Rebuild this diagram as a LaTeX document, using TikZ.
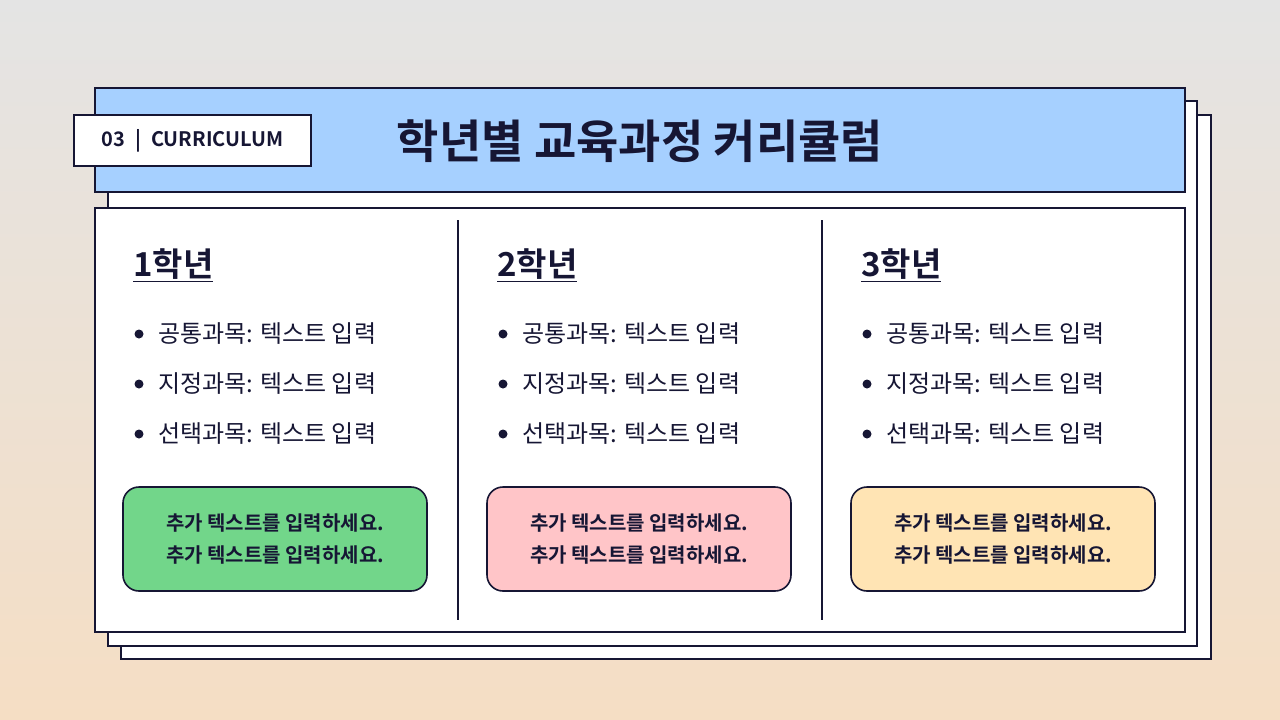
\documentclass[tikz,border=0pt]{standalone}
\usepackage{fontspec}
\setmainfont{Noto Sans CJK KR}
\newfontfamily\kb{Noto Sans CJK KR Bold}
\definecolor{ink}{RGB}{22,22,52}
\definecolor{hblue}{RGB}{166,208,255}
\definecolor{cgreen}{RGB}{114,214,138}
\definecolor{cpink}{RGB}{255,197,200}
\definecolor{cyellow}{RGB}{255,228,180}
\definecolor{bgtop}{RGB}{228,228,228}
\definecolor{bgbot}{RGB}{245,222,196}
\begin{document}
\begin{tikzpicture}[x=1pt,y=-1pt,
  frame/.style={draw=ink,line width=1.6pt,fill=white},
  heading/.style={anchor=west,font=\kb\fontsize{33}{36}\selectfont,text=ink,inner sep=0pt},
  item/.style={anchor=west,font=\fontsize{24}{27}\selectfont,text=ink,inner sep=0pt},
  note/.style={draw=ink,line width=1.6pt,rounded corners=16pt,minimum width=304pt,minimum height=104pt,align=center,font=\kb\fontsize{20}{32}\selectfont,text=ink}]
\useasboundingbox (0,0) rectangle (1280,720);
\shade[top color=bgtop,bottom color=bgbot] (0,0) rectangle (1280,720);
\draw[frame] (121,115) rectangle (1211,659);
\draw[frame] (108,101) rectangle (1197,646);
\draw[frame] (95,208) rectangle (1185,632);
\draw[frame,fill=hblue] (95,88) rectangle (1185,192);
\node[frame,minimum width=237pt,minimum height=51pt,font=\kb\fontsize{20}{22}\selectfont,text=ink] (tag) at (192.5,140.5) {03\hspace{10pt}|\hspace{10pt}CURRICULUM};
\node[font=\kb\fontsize{46}{50}\selectfont,text=ink] (title) at (640,141) {학년별 교육과정 커리큘럼};
\draw[ink,line width=1.4pt] (458,220) -- (458,620);
\draw[ink,line width=1.4pt] (822,220) -- (822,620);
\foreach \x/\n/\c in {133/1/cgreen,497/2/cpink,861/3/cyellow}{
  \node[heading] (h\n) at (\x,265) {\underline{{\n}학년}};
  \foreach \y/\t in {334/공통과목,384/지정과목,434/선택과목}{
    \fill[ink] (\x+6,\y) circle (4.5pt);
    \node[item] (i\n\y) at (\x+25,\y) {{\t}: 텍스트 입력};
  }
  \node[note,fill=\c] (n\n) at (\x+142,539) {추가 텍스트를 입력하세요.\\추가 텍스트를 입력하세요.};
}
\end{tikzpicture}
\end{document}
